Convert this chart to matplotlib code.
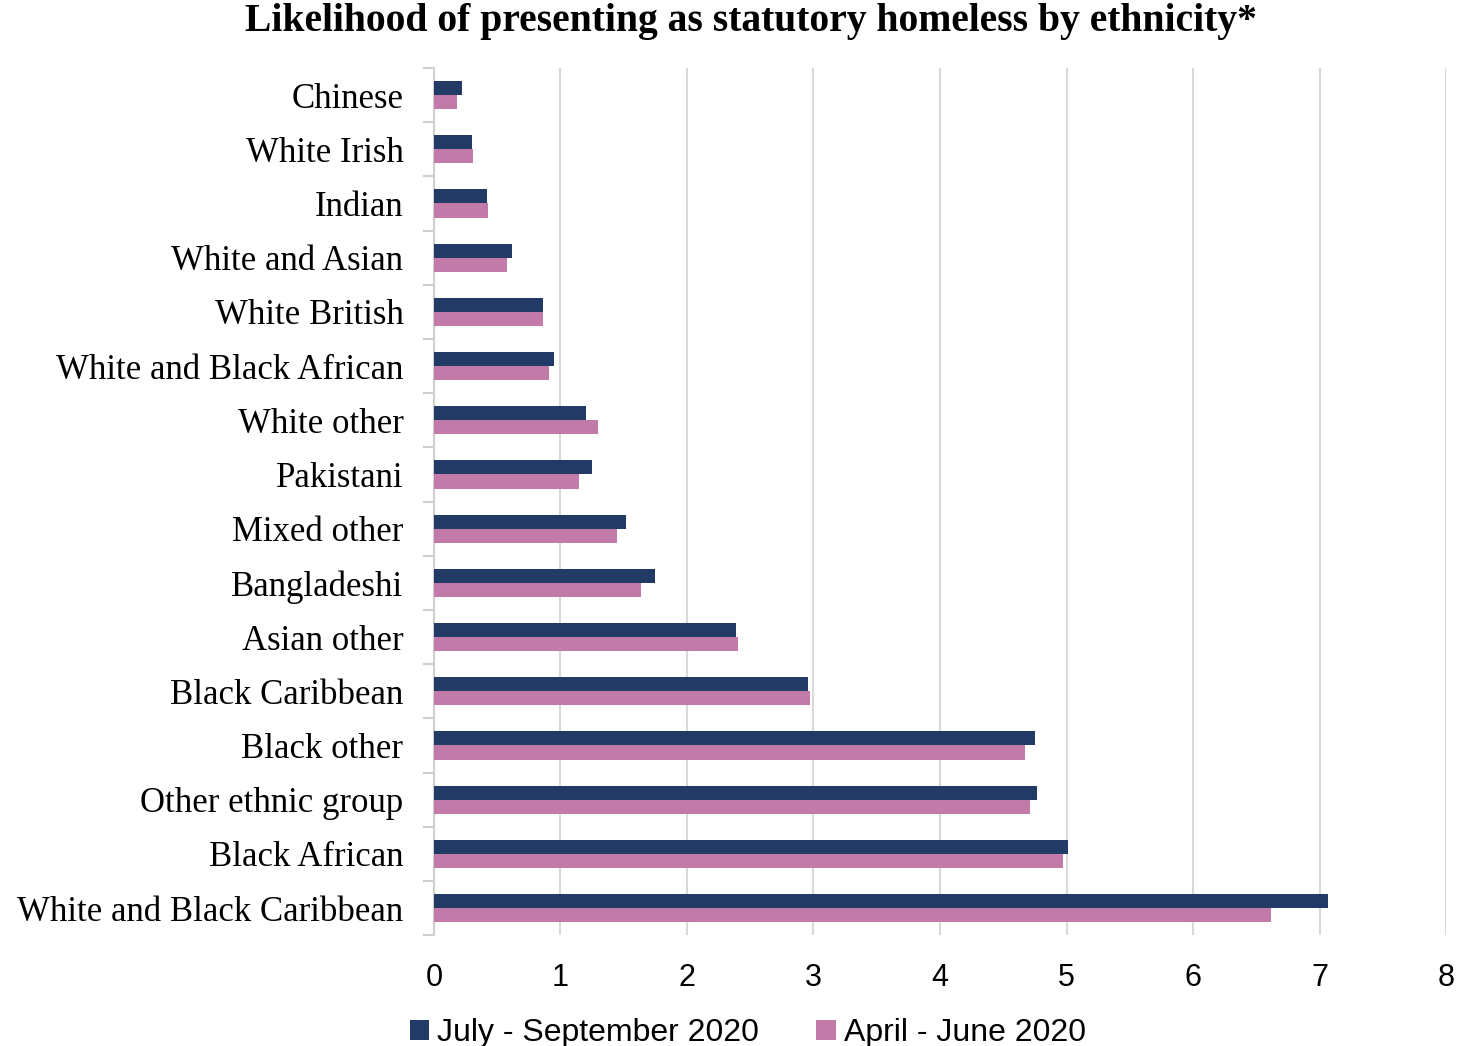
import numpy as np
import matplotlib.pyplot as plt

# Likelihood of presenting as statutory homeless, by ethnic group
ethnicities = ["Chinese", "White Irish", "Indian", "White and Asian", "White British",
               "White and Black African", "White other", "Pakistani", "Mixed other",
               "Bangladeshi", "Asian other", "Black Caribbean", "Black other",
               "Other ethnic group", "Black African", "White and Black Caribbean"]
jul_sep_2020 = [0.22, 0.30, 0.42, 0.62, 0.86, 0.95, 1.20, 1.25, 1.52, 1.75,
                2.39, 2.96, 4.75, 4.77, 5.01, 7.07]
apr_jun_2020 = [0.18, 0.31, 0.43, 0.58, 0.86, 0.91, 1.30, 1.15, 1.45, 1.64,
                2.40, 2.97, 4.67, 4.71, 4.97, 6.62]

navy = "#213a66"
pink = "#c27ba8"

fig = plt.figure(figsize=(14.7, 10.46), dpi=100)
ax = fig.add_axes([0.2952, 0.106, 0.6885, 0.829])

y = np.arange(len(ethnicities))
h = 0.26
ax.barh(y - h / 2, jul_sep_2020, height=h, color=navy, label="July - September 2020", zorder=3)
ax.barh(y + h / 2, apr_jun_2020, height=h, color=pink, label="April - June 2020", zorder=3)

ax.set_ylim(len(ethnicities) - 0.5, -0.5)
ax.set_xlim(0, 8)
ax.set_xticks(range(0, 9))
ax.tick_params(axis="x", length=0, labelsize=22, pad=20)
ax.grid(axis="x", color="#d9d9d9", linewidth=1.5, zorder=0)

ax.set_yticks(y)
ax.set_yticklabels(ethnicities, fontfamily="Liberation Serif", fontsize=25)
ax.tick_params(axis="y", which="major", length=0, pad=22)
ax.set_yticks(np.arange(-0.5, len(ethnicities)), minor=True)
ax.tick_params(axis="y", which="minor", length=8, color="#d0d0d0", width=1.5)

for s in ["top", "right", "bottom"]:
    ax.spines[s].set_visible(False)
ax.spines["left"].set_color("#d0d0d0")
ax.spines["left"].set_linewidth(1.5)

for lbl in ax.get_xticklabels():
    lbl.set_fontfamily("Liberation Sans")

fig.suptitle("Likelihood of presenting as statutory homeless by ethnicity*",
             x=0.511, y=0.997, fontsize=28.5, fontweight="bold", fontfamily="Liberation Serif")

ax.legend(loc="center", bbox_to_anchor=(0.31, -0.113), ncol=2, frameon=False,
          prop={"family": "Liberation Sans", "size": 23}, handlelength=0.6,
          handleheight=0.6, handletextpad=0.25, columnspacing=1.8)

fig.savefig("out.png", dpi=100)
